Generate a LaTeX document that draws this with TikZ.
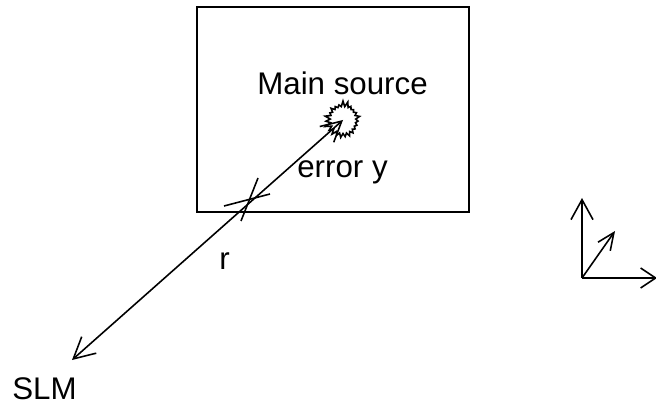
\documentclass[tikz,border=0pt]{standalone}
\usepackage{fontspec}
\setmainfont{Liberation Sans}
\usetikzlibrary{arrows.meta,shapes.symbols}
\tikzset{
  frame/.style={draw=black, line width=0.9pt, minimum width=5.44cm, minimum height=4.1cm, inner sep=0pt, outer sep=0pt},
  burst/.style={draw=black, line width=0.9pt, starburst, starburst points=23, starburst point height=1.2mm,
    random starburst=7, minimum width=7.5mm, minimum height=7.8mm, inner sep=0pt, fill=white},
  lbl/.style={anchor=base west, font=\fontsize{17.8}{20}\selectfont, inner sep=0pt, text=black},
  ray/.style={draw=black, line width=0.9pt},
  flow/.style={ray, -{Straight Barb[length=4mm,width=4.4mm]}},
  bothflow/.style={ray, {Straight Barb[length=4.2mm,width=4.4mm]}-{Straight Barb[length=4mm,width=4.2mm]}}
}
\begin{document}
\begin{tikzpicture}[x=0.02cm, y=-0.02cm]
    \useasboundingbox (0,0) rectangle (656,405);
    \node[frame] (window) at (333,109.5) {};
    \node[burst] (source) at (343,120) {};
    \node[lbl] (mainlbl) at (257,95) {Main source};
    \node[lbl] (errorlbl) at (297,178) {error y};
    \node[lbl] (rlbl) at (219,270) {r};
    \node[lbl] (slmlbl) at (12,399) {SLM};

    \coordinate (slm) at (72,360);
    \coordinate (tipa) at (224,206);
    \coordinate (tipb) at (270,194);
    \coordinate (tipc) at (258,178);
    \coordinate (tipd) at (241,221);
    \draw[bothflow] (slm) -- (source.center);
    \draw[ray] (tipa) -- (tipb);
    \draw[ray] (tipc) -- (tipd);

    \coordinate (origin) at (582,278);
    \coordinate (axisup) at (582,198);
    \coordinate (axisright) at (657,278);
    \coordinate (axisdiag) at (615,231);
    \draw[flow] (origin) -- (axisup);
    \draw[ray, -{Straight Barb[length=3mm,width=4mm]}] (origin) -- (axisright);
    \draw[ray, -{Straight Barb[length=3.4mm,width=3mm]}] (origin) -- (axisdiag);
\end{tikzpicture}
\end{document}
